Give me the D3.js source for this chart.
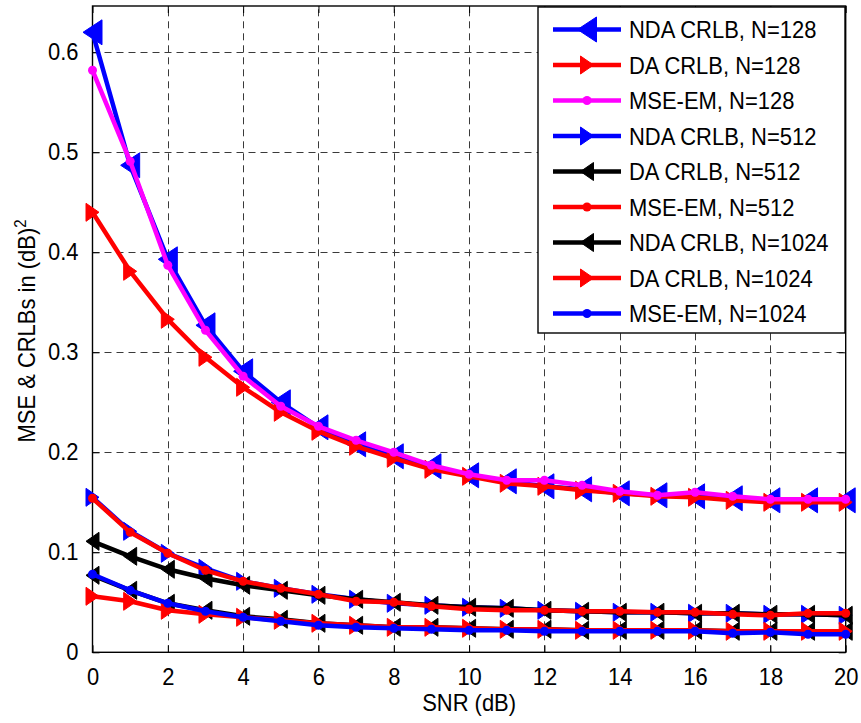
<!DOCTYPE html>
<html>
<head>
<meta charset="utf-8">
<script src="https://cdn.jsdelivr.net/npm/d3@7"></script>
<style>
  html, body { margin: 0; padding: 0; background: #fff; }
  svg text { font-family: "Liberation Sans", Arial, Helvetica, sans-serif; fill: #000; }
</style>
</head>
<body>
<svg id="chart" width="861" height="723"></svg>
<script>
// ---------------- data ----------------
const snr = [0,1,2,3,4,5,6,7,8,9,10,11,12,13,14,15,16,17,18,19,20];
const xTicks = [0,2,4,6,8,10,12,14,16,18,20];
const yTicks = [0,0.1,0.2,0.3,0.4,0.5,0.6];

const ndaCrlb128 = [0.620,0.487,0.393,0.327,0.281,0.250,0.225,0.208,0.196,0.186,0.177,0.171,0.166,0.163,0.159,0.157,0.156,0.154,0.152,0.152,0.152];
const daCrlb128  = [0.440,0.381,0.333,0.295,0.265,0.240,0.221,0.206,0.194,0.183,0.176,0.169,0.166,0.162,0.159,0.156,0.155,0.152,0.150,0.150,0.150];
const mseEm128   = [0.582,0.491,0.387,0.322,0.276,0.246,0.226,0.212,0.200,0.187,0.178,0.172,0.172,0.167,0.161,0.157,0.160,0.156,0.153,0.153,0.153];
const ndaCrlb512 = [0.155,0.121,0.099,0.084,0.071,0.064,0.058,0.053,0.049,0.047,0.045,0.044,0.042,0.041,0.040,0.040,0.039,0.039,0.038,0.038,0.037];
const daCrlb512  = [0.111,0.096,0.083,0.074,0.067,0.062,0.057,0.053,0.050,0.047,0.045,0.044,0.042,0.041,0.040,0.040,0.039,0.039,0.038,0.038,0.037];
const mseEm512   = [0.154,0.120,0.099,0.082,0.071,0.064,0.058,0.051,0.050,0.046,0.043,0.042,0.042,0.041,0.041,0.040,0.040,0.038,0.037,0.039,0.039];
const ndaCrlb1024= [0.077,0.062,0.049,0.042,0.036,0.033,0.029,0.027,0.025,0.025,0.024,0.023,0.023,0.022,0.022,0.022,0.022,0.021,0.021,0.021,0.021];
const daCrlb1024 = [0.056,0.051,0.042,0.038,0.035,0.032,0.029,0.027,0.025,0.025,0.024,0.023,0.023,0.022,0.022,0.022,0.022,0.021,0.021,0.021,0.021];
const mseEm1024  = [0.078,0.062,0.049,0.041,0.035,0.031,0.027,0.025,0.024,0.023,0.022,0.022,0.021,0.021,0.021,0.021,0.021,0.019,0.020,0.018,0.018];

const seriesNames = ["NDA CRLB, N=128","DA CRLB, N=128","MSE-EM, N=128","NDA CRLB, N=512","DA CRLB, N=512","MSE-EM, N=512","NDA CRLB, N=1024","DA CRLB, N=1024","MSE-EM, N=1024"];
const seriesValues = [ndaCrlb128, daCrlb128, mseEm128, ndaCrlb512, daCrlb512, mseEm512, ndaCrlb1024, daCrlb1024, mseEm1024];
const seriesColors = ["#0000ff","#ff0000","#ff00ff","#0000ff","#000000","#ff0000","#000000","#ff0000","#0000ff"];
const seriesMarkers = ["left-big","right","dot","right","left","dot","left","right","dot"];

const xLabel = "SNR (dB)";
const yLabel = "MSE & CRLBs in (dB)";

// ---------------- layout ----------------
const FS = 23.5, SX = 0.935;
const svg = d3.select("#chart");
const L = 92.5, R = 845.7, T = 6, B = 652.3;
const x = d3.scaleLinear().domain([0,20]).range([L,R]);
const y = d3.scaleLinear().domain([0,0.6463]).range([B,T]);

svg.append("rect").attr("x",0).attr("y",0).attr("width",861).attr("height",723).attr("fill","#fff");

// grid
const grid = svg.append("g").attr("stroke","#3a3a3a").attr("stroke-width",1).attr("stroke-dasharray","7,5").attr("fill","none");
xTicks.slice(1,-1).forEach(t => { const px = Math.round(x(t))+0.5; grid.append("line").attr("x1",px).attr("x2",px).attr("y1",B).attr("y2",T); });
yTicks.slice(1).forEach(t => { const py = Math.round(y(t))+0.5; grid.append("line").attr("x1",L).attr("x2",R).attr("y1",py).attr("y2",py); });

// axes with inward ticks
const xAxisB = d3.axisBottom(x).tickValues(xTicks).tickSizeInner(-7).tickSizeOuter(0).tickPadding(16).tickFormat(d3.format("d"));
const xAxisT = d3.axisTop(x).tickValues(xTicks).tickSizeInner(-7).tickSizeOuter(0).tickFormat("");
const yAxisL = d3.axisLeft(y).tickValues(yTicks).tickSizeInner(-7).tickSizeOuter(0).tickPadding(15).tickFormat(d => d === 0 ? "0" : d3.format(".1f")(d));
const yAxisR = d3.axisRight(y).tickValues(yTicks).tickSizeInner(-7).tickSizeOuter(0).tickFormat("");

function styleAxis(g){
  g.select(".domain").remove();
  g.selectAll(".tick line").attr("stroke","#000").attr("stroke-width",1);
  g.selectAll(".tick text").attr("font-size",FS).attr("font-family","Liberation Sans, Arial, sans-serif")
    .attr("fill","#000").attr("transform",`scale(${SX},1)`);
}
svg.append("g").attr("transform",`translate(0,${B})`).call(xAxisB).call(styleAxis);
svg.append("g").attr("transform",`translate(0,${T})`).call(xAxisT).call(styleAxis);
svg.append("g").attr("transform",`translate(${L},0)`).call(yAxisL).call(styleAxis);
svg.append("g").attr("transform",`translate(${R},0)`).call(yAxisR).call(styleAxis);

// box
svg.append("rect").attr("x",L).attr("y",T).attr("width",R-L).attr("height",B-T)
  .attr("fill","none").attr("stroke","#000").attr("stroke-width",1.4);

// markers
function markerPath(type){
  if (type === "left-big") { const w=19,h=25; return `M${-w/2},0L${w/2},${-h/2}L${w/2},${h/2}Z`; }
  if (type === "left")     { const w=13,h=18; return `M${-w/2},0L${w/2},${-h/2}L${w/2},${h/2}Z`; }
  if (type === "right")    { const w=13,h=18; return `M${w/2},0L${-w/2},${-h/2}L${-w/2},${h/2}Z`; }
  return null;
}
function drawMarker(g, type, cx, cy, color){
  if (type === "dot") {
    g.append("circle").attr("cx",cx).attr("cy",cy).attr("r",4.5).attr("fill",color);
  } else {
    g.append("path").attr("d",markerPath(type)).attr("transform",`translate(${cx},${cy})`)
      .attr("fill",color).attr("stroke",color).attr("stroke-width",1).attr("stroke-linejoin","miter");
  }
}

const line = d3.line().x((d,i) => x(snr[i])).y(d => y(d));
const plotG = svg.append("g");
seriesValues.forEach((vals, si) => {
  const g = plotG.append("g");
  g.append("path").datum(vals).attr("d",line).attr("fill","none")
    .attr("stroke",seriesColors[si]).attr("stroke-width",4.5).attr("stroke-linejoin","round");
  vals.forEach((v,i) => drawMarker(g, seriesMarkers[si], x(snr[i]), y(v), seriesColors[si]));
});

// axis labels
svg.append("text").attr("transform",`translate(${(L+R)/2},711) scale(${SX},1)`).attr("text-anchor","middle").attr("font-size",FS).text(xLabel);
const yl = svg.append("text").attr("transform",`translate(35,331) rotate(-90) scale(${SX},1)`).attr("text-anchor","middle").attr("font-size",FS);
yl.append("tspan").text(yLabel);
yl.append("tspan").attr("font-size",16).attr("dy",-9).text("2");

// legend
const lg = svg.append("g");
lg.append("rect").attr("x",538).attr("y",7).attr("width",307).attr("height",326)
  .attr("fill","#fff").attr("stroke","#000").attr("stroke-width",1.4);
seriesNames.forEach((name, i) => {
  const cy = 29.5 + i*35.5;
  lg.append("line").attr("x1",553).attr("x2",621).attr("y1",cy).attr("y2",cy)
    .attr("stroke",seriesColors[i]).attr("stroke-width",4.5);
  drawMarker(lg, seriesMarkers[i], 587, cy, seriesColors[i]);
  lg.append("text").attr("transform",`translate(629,${cy+8.5}) scale(${SX},1)`).attr("font-size",FS).text(name);
});
</script>
</body>
</html>
